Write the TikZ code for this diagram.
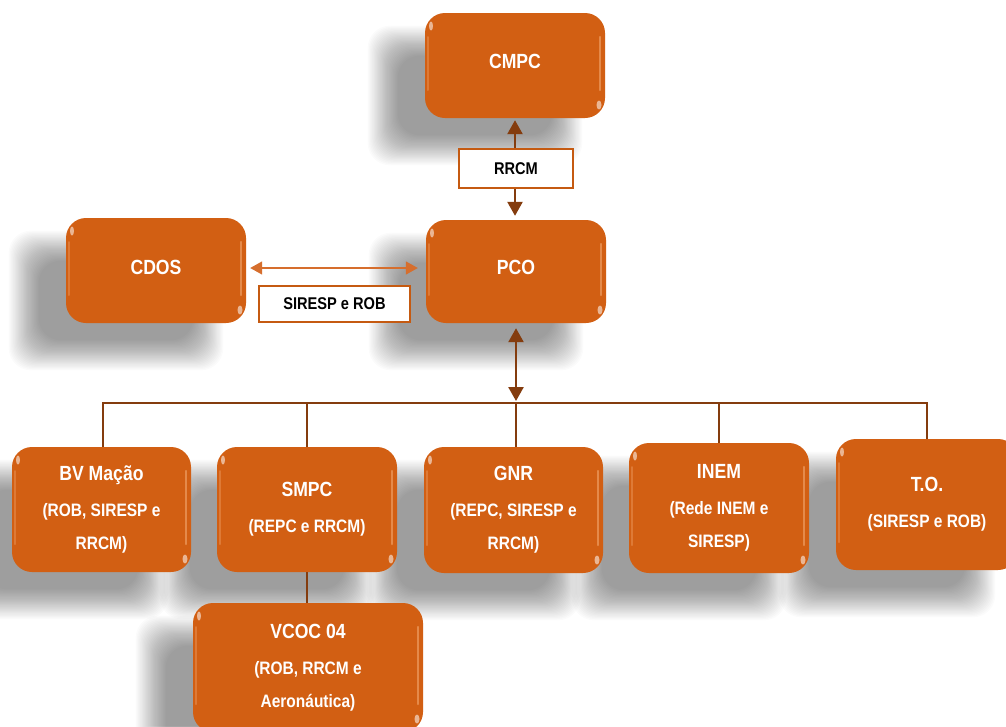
\documentclass[tikz,border=0pt]{standalone}
\usepackage{fontspec}
\newfontfamily\boxfont[FakeStretch=0.86]{Liberation Sans}
\usetikzlibrary{arrows.meta,calc}
\definecolor{boxorange}{RGB}{210,95,19}
\definecolor{conbrown}{RGB}{132,60,14}
\definecolor{lblorange}{RGB}{197,90,17}
\definecolor{lightarrow}{RGB}{214,110,45}
\definecolor{gloss}{RGB}{246,175,120}
\pgfdeclarelayer{paper}
\pgfdeclarelayer{shadowlayer}
\pgfsetlayers{paper,shadowlayer,main}
\newcommand\boxhead[1]{{\fontsize{20.5}{33}\selectfont #1}}
\newcommand\dropshadow[1]{%
  \begin{pgfonlayer}{shadowlayer}
    \foreach \k in {0,...,26}{
      \fill[black, opacity=0.014, rounded corners=22pt]
        ($(#1.north west)+(-40-17+1.15*\k, 30-17+1.15*\k)$) rectangle
        ($(#1.south east)+(-40+17-1.15*\k, 30+17-1.15*\k)$);
    }
  \end{pgfonlayer}}
\tikzset{
  orgbox/.style={draw=none, fill=boxorange, rounded corners=20pt, text=white,
    align=center, inner sep=0pt,
    font=\boxfont\bfseries\fontsize{18}{33}\selectfont,
    path picture={
      \draw[gloss, line width=2.5pt, line cap=round, opacity=0.55]
        ([xshift=-5pt,yshift=-24pt]path picture bounding box.north east) --
        ([xshift=-5pt,yshift=28pt]path picture bounding box.south east);
      \draw[gloss, line width=2pt, line cap=round, opacity=0.35]
        ([xshift=3pt,yshift=-24pt]path picture bounding box.north west) --
        ([xshift=3pt,yshift=28pt]path picture bounding box.south west);
      \fill[white, opacity=0.55]
        ([xshift=6pt,yshift=-13pt]path picture bounding box.north west)
        ellipse [x radius=2pt, y radius=4.5pt];
      \fill[white, opacity=0.55]
        ([xshift=-6pt,yshift=13pt]path picture bounding box.south east)
        ellipse [x radius=2.5pt, y radius=4.5pt];
    }},
  lbl/.style={draw=lblorange, line width=1.8pt, fill=white, text=black,
    inner sep=0pt, font=\boxfont\bfseries\fontsize{17}{20}\selectfont},
  conn/.style={draw=conbrown, line width=2.5pt},
  bigtip/.style={{Triangle[width=15pt,length=14pt]}-{Triangle[width=15pt,length=14pt]}},
}
\begin{document}
\begin{tikzpicture}[x=1pt,y=-1pt]
\useasboundingbox (0,0) rectangle (1006,726);
\begin{pgfonlayer}{paper}
  \fill[white] (0,0) rectangle (1006,726);
\end{pgfonlayer}

% boxes
\node[orgbox, minimum width=180pt, minimum height=105pt, text depth=8pt] (cmpc) at (515,65.5) {\boxhead{CMPC}};
\node[orgbox, minimum width=180pt, minimum height=105pt, text depth=6pt] (cdos) at (156,270.5) {\boxhead{CDOS}};
\node[orgbox, minimum width=180pt, minimum height=103pt, text depth=8pt] (pco) at (516,271.5) {\boxhead{PCO}};
\node[orgbox, minimum width=179pt, minimum height=125pt] (bv) at (101.5,509.5)
  {\boxhead{BV Mação}\\[3pt] (ROB, SIRESP e\\ RRCM)};
\node[orgbox, minimum width=180pt, minimum height=125pt] (smpc) at (307,509.5)
  {\boxhead{SMPC}\\[3pt] (REPC e RRCM)};
\node[orgbox, minimum width=179pt, minimum height=126pt] (gnr) at (513.5,510)
  {\boxhead{GNR}\\[3pt] (REPC, SIRESP e\\ RRCM)};
\node[orgbox, minimum width=180pt, minimum height=130pt] (inem) at (719,508)
  {\boxhead{INEM}\\[3pt] (Rede INEM e\\ SIRESP)};
\node[orgbox, minimum width=182pt, minimum height=131pt] (tob) at (927,504.5)
  {\boxhead{T.O.}\\[3pt] (SIRESP e ROB)};
\node[orgbox, minimum width=230pt, minimum height=129pt] (vcoc) at (308,667.5)
  {\boxhead{VCOC 04}\\[3pt] (ROB, RRCM e\\ Aeronáutica)};

\foreach \n in {cmpc,cdos,pco,bv,smpc,gnr,inem,tob,vcoc}{\dropshadow{\n}}

% connectors
\draw[conn, bigtip, shorten <=2pt, shorten >=4pt] (cmpc.south) -- (cmpc.south |- pco.north);
\draw[lightarrow, line width=1.5pt, {Triangle[width=13pt,length=12pt]}-{Triangle[width=13pt,length=12pt]}]
  ($(cdos.east)+(4,-2.5)$) -- ($(pco.west |- cdos.east)+(-8,-2.5)$);
\coordinate (bus) at (516,403);
\draw[conn, bigtip, shorten <=5pt, shorten >=2pt] (pco.south) -- (bus);
\draw[conn, line width=2pt] (bv.north -| 103,0) |- (tob.north |- bus) -- (tob.north);
\draw[conn, line width=2pt] (smpc.north) -- (smpc.north |- bus);
\draw[conn, line width=2pt] (gnr.north -| bus) -- (bus);
\draw[conn, line width=2pt] (inem.north) -- (inem.north |- bus);
\draw[conn, line width=2pt] (smpc.south) -- (vcoc.north -| smpc.south);

% labels
\node[lbl, minimum width=114pt, minimum height=39pt] (rrcm) at (516,168.5) {RRCM};
\node[lbl, minimum width=151pt, minimum height=36pt] (sirob) at (334.5,304) {SIRESP e ROB};
\end{tikzpicture}
\end{document}
